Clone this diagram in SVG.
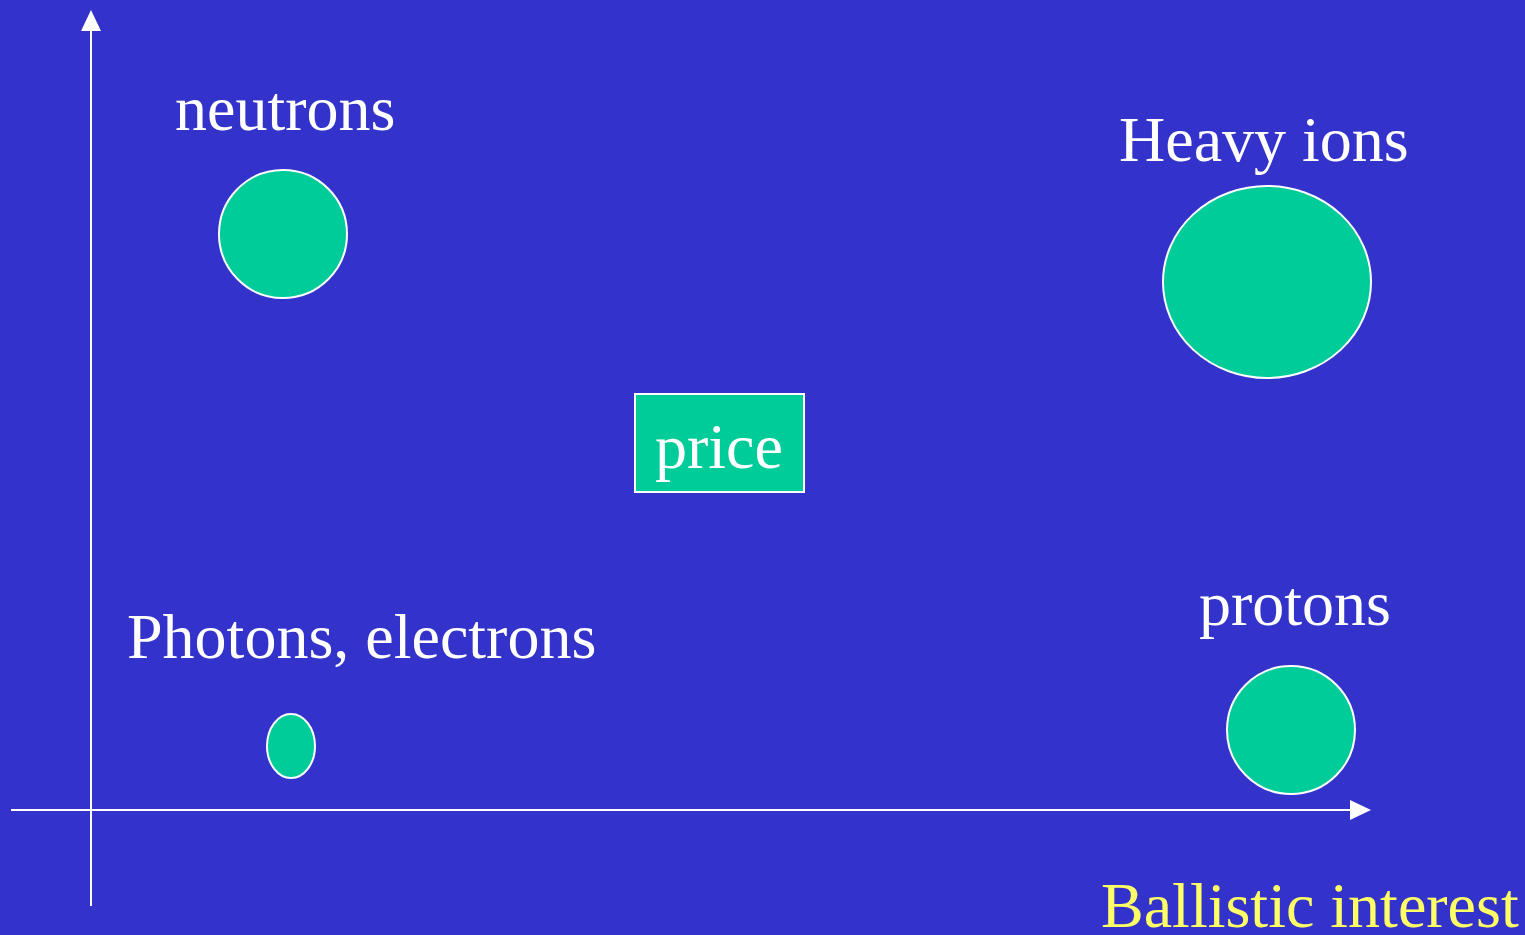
<svg xmlns="http://www.w3.org/2000/svg" width="1525" height="935" viewBox="0 0 1525 935">
<style>
.lbl{font-family:"Liberation Serif","Times New Roman",serif;font-size:64px;fill:#ffffff}
.node{fill:#00cc99;stroke:#ffffff;stroke-width:2}
.axis{stroke:#ffffff;stroke-width:2;fill:none}
</style>
<rect x="0" y="0" width="1525" height="935" fill="#3333cc"/>
<g id="connectors">
<line class="axis" x1="91" y1="906" x2="91" y2="28"/>
<polygon points="91,10 81,31 101,31" fill="#ffffff"/>
<line class="axis" x1="11" y1="810" x2="1352" y2="810"/>
<polygon points="1371,810 1350,800 1350,820" fill="#ffffff"/>
</g>
<g id="neutrons">
<circle class="node" cx="283" cy="234" r="64"/>
<text class="lbl" x="175" y="130">neutrons</text>
</g>
<g id="heavy-ions">
<ellipse class="node" cx="1267" cy="282" rx="104" ry="96"/>
<text class="lbl" x="1119" y="161">Heavy ions</text>
</g>
<g id="protons">
<circle class="node" cx="1291" cy="730" r="64"/>
<text class="lbl" x="1199" y="625">protons</text>
</g>
<g id="photons">
<ellipse class="node" cx="291" cy="746" rx="24" ry="32"/>
<text class="lbl" x="127" y="658">Photons, electrons</text>
</g>
<g id="price">
<rect class="node" x="635" y="394" width="169" height="98"/>
<text class="lbl" x="655" y="468">price</text>
</g>
<g id="axis-label">
<text class="lbl" x="1101" y="927" style="fill:#ffff66">Ballistic interest</text>
</g>
</svg>
